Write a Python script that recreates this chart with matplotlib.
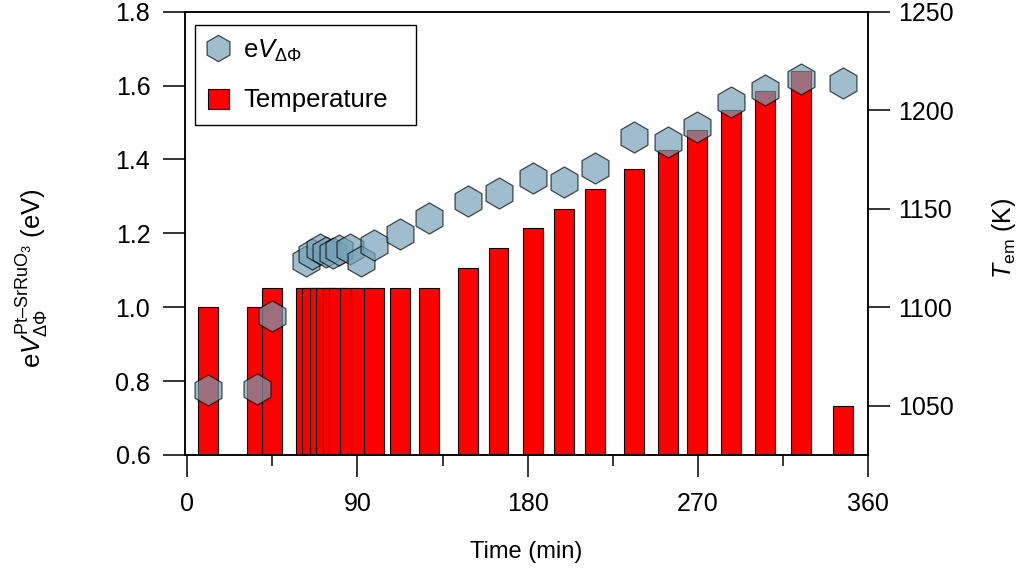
import matplotlib.pyplot as plt
from matplotlib.lines import Line2D
from matplotlib.patches import Patch
from matplotlib.ticker import MultipleLocator, FormatStrFormatter

plt.rcParams['font.family'] = 'Liberation Sans'
plt.rcParams['mathtext.fontset'] = 'custom'
plt.rcParams['mathtext.rm'] = 'Liberation Sans'
plt.rcParams['mathtext.it'] = 'Liberation Sans:italic'

# measurement times (min), emitter temperature (K), work function difference (eV)
time_min = [10.8, 36.9, 45.0, 62.9, 65.7, 70.1, 73.3, 77.0, 80.2, 86.0, 91.8, 98.9,
            112.5, 127.8, 148.6, 164.6, 183.0, 199.1, 215.5, 236.4, 254.4, 269.4,
            287.4, 305.6, 324.4, 346.6]
temp_K = [1100, 1100, 1110, 1110, 1110, 1110, 1110, 1110, 1110, 1110, 1110, 1110,
          1110, 1110, 1120, 1130, 1140, 1150, 1160, 1170, 1180, 1190,
          1200, 1210, 1220, 1050]
eV_dphi = [0.775, 0.779, 0.977, 1.125, 1.144, 1.158, 1.150, 1.147, 1.155, 1.158, 1.125, 1.168,
           1.197, 1.242, 1.287, 1.310, 1.350, 1.339, 1.377, 1.462, 1.446, 1.487,
           1.556, 1.588, 1.617, 1.608]

hex_color = '#74a0b5'
hex_alpha = 0.69
fs_tick = 18
fs_label = 17

fig = plt.figure(figsize=(10.24, 5.79), dpi=100)
ax = fig.add_axes([0.1807, 0.2142, 0.667, 0.7656])
axT = ax.twinx()
# keep the hexagons above the temperature bars
ax.set_zorder(axT.get_zorder() + 1)
ax.patch.set_visible(False)

axT.bar(time_min, temp_K, width=10.5, color='#ff0000', edgecolor='black', linewidth=0.8)
ax.scatter(time_min, eV_dphi, marker='h', s=500, facecolor=hex_color, edgecolor='black',
           linewidths=0.9, alpha=hex_alpha, zorder=3)

ax.set_xlim(-1.2, 360)
ax.set_ylim(0.6, 1.8)
axT.set_ylim(1025, 1250)

ax.xaxis.set_major_locator(MultipleLocator(90))
ax.xaxis.set_minor_locator(MultipleLocator(45))
ax.yaxis.set_major_locator(MultipleLocator(0.2))
ax.yaxis.set_major_formatter(FormatStrFormatter('%.1f'))
axT.yaxis.set_major_locator(MultipleLocator(50))

ax.tick_params(axis='x', which='major', direction='out', length=16, width=1.1, pad=11, labelsize=fs_tick)
ax.tick_params(axis='x', which='minor', direction='out', length=8, width=1.1)
ax.tick_params(axis='y', direction='out', length=16, width=1.1, pad=9, labelsize=fs_tick)
axT.tick_params(axis='y', direction='out', length=16, width=1.1, pad=6, labelsize=fs_tick)

for a in (ax, axT):
    for sp in a.spines.values():
        sp.set_linewidth(1.1)

ax.set_xlabel('Time (min)', fontsize=fs_label)
ax.xaxis.set_label_coords(0.5, -0.194)
ax.set_ylabel(r'e$V_{\Delta\Phi}^{\mathrm{Pt–SrRuO}_3}$ (eV)', fontsize=18.5)
ax.yaxis.set_label_coords(-0.196, 0.40)
axT.set_ylabel(r'$T_{\mathrm{em}}$ (K)', fontsize=18)
axT.yaxis.set_label_coords(1.1786, 0.488)

handles = [
    Line2D([], [], marker='h', ls='none', markersize=19, markerfacecolor=hex_color,
           markeredgecolor='black', markeredgewidth=0.9, alpha=hex_alpha),
    Patch(facecolor='#ff0000', edgecolor='black', linewidth=0.8),
]
leg = ax.legend(handles, [r'e$V_{\Delta\Phi}$', 'Temperature'], loc='upper left',
                bbox_to_anchor=(0.0146, 0.970, 0.3236, 0), mode='expand',
                borderaxespad=0, fontsize=18.5,
                fancybox=False, framealpha=1, edgecolor='black',
                handlelength=0.82, handleheight=0.82, handletextpad=0.55,
                labelspacing=0.95, borderpad=0.5)
leg.get_frame().set_linewidth(1.0)

fig.savefig('out.png', dpi=100)
